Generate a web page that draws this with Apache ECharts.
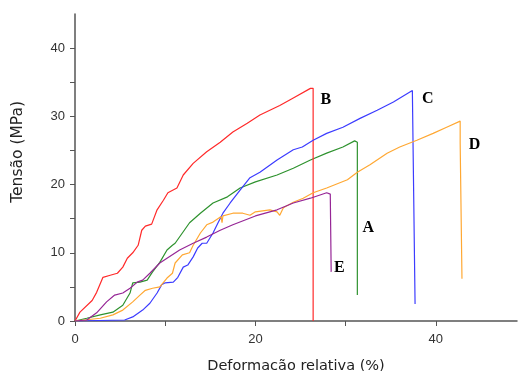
<!DOCTYPE html>
<html lang="pt">
<head>
<meta charset="UTF-8">
<title>Tensão x Deformação</title>
<script src="https://cdn.jsdelivr.net/npm/echarts@6/dist/echarts.min.js"></script>
<style>
  html, body { margin: 0; padding: 0; background: #fff; }
  #main { width: 518px; height: 371px; }
</style>
</head>
<body>
<div id="main"></div>
<script>
// curva A (verde)
var strainA = [0, 1.3, 2.8, 4.2, 5.3, 6.1, 6.4, 7.2, 8.0, 8.6, 9.4, 10.2, 10.8, 11.1, 11.9, 12.7, 13.9, 15.3, 16.9, 18.3, 20.0, 22.4, 24.2, 26.1, 27.9, 29.7, 31.0, 31.3, 31.3];
var stressA = [0, 0.4, 0.9, 1.3, 2.3, 4.1, 5.6, 5.7, 6.0, 7.2, 8.6, 10.4, 11.1, 11.4, 12.9, 14.4, 15.8, 17.3, 18.2, 19.5, 20.4, 21.4, 22.4, 23.6, 24.6, 25.5, 26.4, 26.2, 3.8];
// curva B (vermelha)
var strainB = [0, 0.55, 1.9, 2.4, 3.1, 3.9, 4.7, 5.3, 5.8, 6.4, 7.0, 7.4, 7.8, 8.5, 9.1, 9.8, 10.3, 11.3, 12.0, 13.1, 14.6, 16.1, 17.5, 19.1, 20.5, 22.7, 24.2, 26.1, 26.4, 26.4];
var stressB = [0, 1.3, 3.0, 4.2, 6.4, 6.7, 7.0, 7.9, 9.2, 10.0, 11.1, 13.3, 13.9, 14.2, 16.3, 17.7, 18.8, 19.5, 21.4, 23.1, 24.8, 26.2, 27.7, 29.0, 30.2, 31.6, 32.7, 34.1, 34.1, 0];
// curva C (azul)
var strainC = [0, 5.5, 6.4, 7.5, 8.3, 9.1, 9.6, 10.0, 10.9, 11.4, 12.0, 12.5, 13.1, 13.6, 14.1, 14.6, 15.3, 15.9, 16.4, 17.2, 18.3, 19.4, 20.5, 22.4, 24.2, 25.2, 26.4, 27.9, 29.7, 31.6, 33.5, 35.3, 37.4, 37.6, 37.7];
var stressC = [0, 0.15, 0.6, 1.6, 2.6, 4.1, 5.3, 5.6, 5.7, 6.4, 7.9, 8.2, 9.4, 10.7, 11.4, 11.4, 12.9, 14.5, 15.8, 17.3, 19.2, 21.0, 21.8, 23.6, 25.1, 25.5, 26.5, 27.5, 28.4, 29.7, 30.9, 32.1, 33.8, 33.7, 2.5];
// curva D (laranja)
var strainD = [0, 2.8, 4.2, 5.3, 6.4, 7.2, 7.8, 8.6, 9.4, 10.2, 10.8, 11.1, 11.9, 12.7, 13.1, 13.9, 14.6, 15.3, 16.2, 16.3, 16.4, 17.5, 18.6, 19.4, 20.0, 21.6, 22.4, 22.7, 23.1, 24.2, 25.3, 26.4, 27.9, 30.2, 31.3, 32.7, 34.6, 36.0, 37.9, 39.7, 41.2, 42.7, 42.7, 42.9];
var stressD = [0, 0.4, 0.9, 1.6, 2.8, 3.8, 4.5, 4.8, 5.0, 6.3, 7.0, 8.5, 9.7, 10.0, 11.1, 12.9, 14.1, 14.5, 15.3, 14.4, 15.4, 15.8, 15.8, 15.5, 16.0, 16.3, 16.0, 15.5, 16.6, 17.4, 18.0, 18.8, 19.5, 20.7, 21.8, 22.9, 24.6, 25.5, 26.5, 27.5, 28.4, 29.3, 26.1, 6.2];
// curva E (roxa)
var strainE = [0, 1.3, 2.4, 3.5, 4.4, 5.3, 6.1, 6.9, 7.5, 8.3, 9.4, 10.2, 11.6, 13.1, 14.6, 16.1, 17.5, 20.0, 22.4, 24.2, 26.1, 27.9, 28.3, 28.4];
var stressE = [0, 0.15, 1.2, 2.8, 3.8, 4.1, 4.8, 5.7, 6.0, 7.0, 8.5, 9.2, 10.4, 11.4, 12.3, 13.3, 14.1, 15.4, 16.3, 17.3, 18.0, 18.8, 18.6, 7.2];

var curveNames = ['A', 'B', 'C', 'D', 'E'];
var labelX = [32.5, 27.8, 39.1, 44.3, 29.3];
var labelY = [13.6, 32.4, 32.5, 25.8, 7.8];
var xTicks = [0, 20, 40];
var yTicks = [0, 10, 20, 30, 40];

var strains = [strainA, strainB, strainC, strainD, strainE];
var stresses = [stressA, stressB, stressC, stressD, stressE];
var colors = ['#2e922e', '#ff2a2a', '#3c3cff', '#ffa833', '#962696'];

function pairs(xs, ys) {
    return xs.map(function (x, i) { return [x, ys[i]]; });
}

var series = curveNames.map(function (name, i) {
    return {
        name: name,
        type: 'line',
        data: pairs(strains[i], stresses[i]),
        showSymbol: false,
        symbol: 'none',
        lineStyle: { color: colors[i], width: 1.2 },
        animation: false,
        markPoint: {
            symbol: 'circle',
            symbolSize: 0,
            data: [{ coord: [labelX[i], labelY[i]], value: name }],
            label: {
                show: true,
                position: 'inside',
                formatter: name,
                color: '#000',
                fontFamily: 'Liberation Serif',
                fontWeight: 'bold',
                fontSize: 16
            }
        }
    };
});

var myChart = echarts.init(document.getElementById('main'));
myChart.setOption({
    animation: false,
    grid: { left: 75, right: 1, top: 14, bottom: 50, containLabel: false, outerBoundsMode: 'none' },
    // titulo do eixo y fica um pouco acima do meio no original
    graphic: [{
        type: 'text',
        left: 10,
        top: 101,
        rotation: Math.PI / 2,
        style: {
            text: 'Tensão (MPa)',
            font: '15.5px "DejaVu Sans"',
            fill: '#222'
        }
    }],
    xAxis: {
        type: 'value',
        min: 0,
        max: 49,
        interval: 10,
        name: 'Deformacão relativa (%)',
        nameLocation: 'middle',
        nameGap: 38,
        nameTextStyle: { fontFamily: 'DejaVu Sans', fontSize: 14.5, color: '#222' },
        splitLine: { show: false },
        axisLine: { lineStyle: { color: '#555', width: 1.5 } },
        axisTick: { length: 5, lineStyle: { color: '#555' } },
        axisLabel: {
            margin: 12,
            fontFamily: 'Liberation Sans',
            fontSize: 13,
            color: '#333',
            showMaxLabel: false,
            formatter: function (v) { return xTicks.indexOf(v) >= 0 ? String(v) : ''; }
        }
    },
    yAxis: {
        type: 'value',
        min: 0,
        max: 45,
        interval: 5,
        splitLine: { show: false },
        axisLine: { show: true, lineStyle: { color: '#555', width: 1.5 } },
        axisTick: { show: true, length: 5, lineStyle: { color: '#555' } },
        axisLabel: {
            margin: 10,
            fontFamily: 'Liberation Sans',
            fontSize: 13,
            color: '#333',
            showMaxLabel: false,
            formatter: function (v) { return yTicks.indexOf(v) >= 0 ? String(v) : ''; }
        }
    },
    series: series
});
</script>
</body>
</html>
